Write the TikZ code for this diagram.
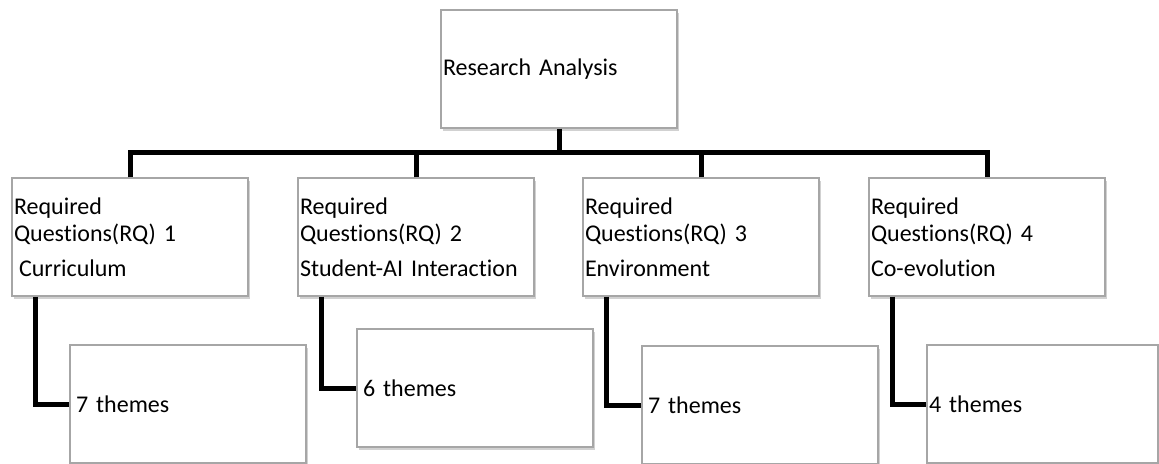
\documentclass[tikz,border=0pt]{standalone}
\usepackage{fontspec}
\setmainfont{Carlito}[Ligatures=NoCommon]
\usetikzlibrary{shadows}

\begin{document}
\begin{tikzpicture}[x=0.5pt,y=-0.5pt,
        box/.style={rectangle,draw=gray!70,fill=white,line width=0.6pt,
                drop shadow={shadow xshift=1.2pt,shadow yshift=-1.5pt,fill=black,opacity=0.18},
                minimum width=118pt,minimum height=59pt,text width=116pt,inner xsep=1pt,
                align=left,font=\fontsize{12}{13.5}\selectfont},
        themebox/.style={box,text width=112pt,inner xsep=3pt},
        link/.style={line width=2.5pt}]
        \useasboundingbox (0,0) rectangle (1159,464);

        \node [box] (top) at (559, 69) {Research Analysis};

        \node [box] (rq1) at (130, 237) {Required\\Questions(RQ) 1\\[4pt]\hspace{2.5pt}Curriculum};
        \node [box] (rq2) at (416, 237) {Required\\Questions(RQ) 2\\[4pt]Student-AI Interaction};
        \node [box] (rq3) at (701, 237) {Required\\Questions(RQ) 3\\[4pt]Environment};
        \node [box] (rq4) at (987, 237) {Required\\Questions(RQ) 4\\[4pt]Co-evolution};

        \node [themebox] (th1) at (188, 404) {7 themes};
        \node [themebox] (th2) at (475, 388) {6 themes};
        \node [themebox] (th3) at (760, 405) {7 themes};
        \node [themebox,minimum width=115.5pt,text width=113.5pt,inner xsep=1pt] (th4) at (1042.5, 404) {4 themes};

        \coordinate (bar) at (559, 153);

        \draw[link] (top.south) -- (bar);
        \draw[link] (rq1.north) |- (bar) -| (rq4.north);
        \draw[link] (rq2.north) -- (rq2.north |- bar);
        \draw[link] (rq3.north) -- (rq3.north |- bar);

        \draw[link] ([xshift=12pt]rq1.south west) |- (th1.west);
        \draw[link] ([xshift=12pt]rq2.south west) |- (th2.west);
        \draw[link] ([xshift=12pt]rq3.south west) |- (th3.west);
        \draw[link] ([xshift=12pt]rq4.south west) |- (th4.west);
\end{tikzpicture}
\end{document}
